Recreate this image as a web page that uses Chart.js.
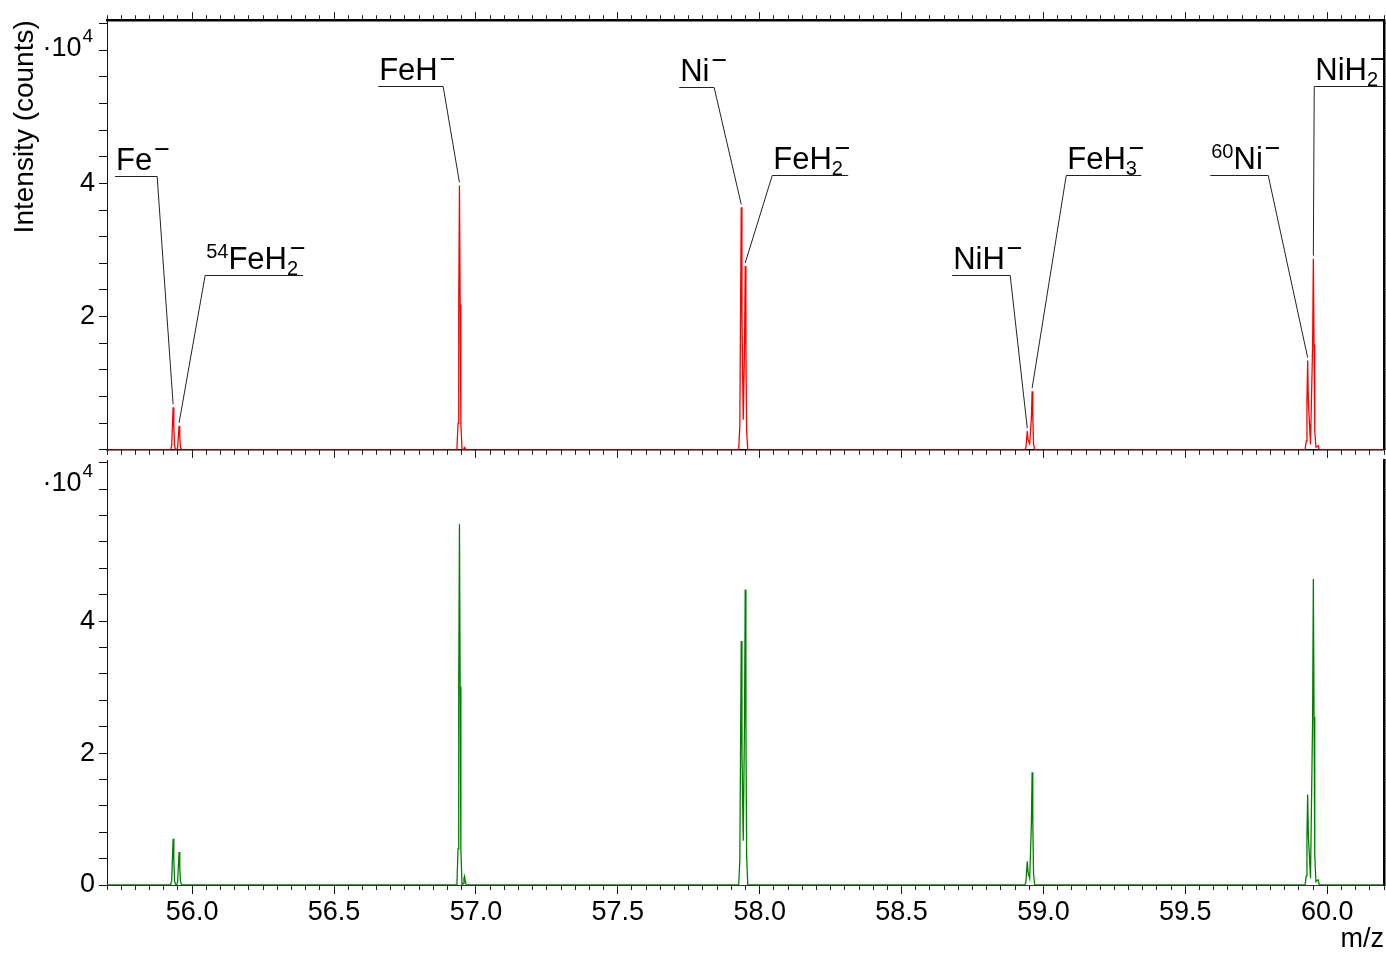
<!DOCTYPE html>
<html>
<head>
<meta charset="utf-8">
<script src="https://cdn.jsdelivr.net/npm/chart.js@4.4.0/dist/chart.umd.min.js"></script>
<style>
  html, body { margin: 0; padding: 0; background: #fff; width: 1386px; height: 954px; overflow: hidden; }
  #wrap { position: relative; width: 1386px; height: 954px; }
  canvas { position: absolute; left: 0; }
  #c1 { top: 0; }
  #c2 { top: 440px; }
</style>
</head>
<body>
<div id="wrap">
  <canvas id="c2" width="1386" height="514"></canvas>
  <canvas id="c1" width="1386" height="470"></canvas>
</div>
<script>
// ---------------- DATA ----------------
// m/z sampling points of the spectra (shared by both spectra)
const mz = [
  55.700,
  55.924, 55.928, 55.9305, 55.933, 55.9355, 55.938, 55.942,
  55.945, 55.949, 55.9515, 55.954, 55.9565, 55.959, 55.963,
  56.933, 56.937, 56.9395, 56.942, 56.9445, 56.947, 56.951,
  56.955, 56.958, 56.960, 56.962, 56.966,
  57.926, 57.930, 57.9325, 57.935, 57.9375, 57.942, 57.9465, 57.949, 57.9515, 57.954, 57.958,
  58.934, 58.938, 58.9405, 58.943, 58.9455, 58.9515, 58.9575, 58.960, 58.9625, 58.965, 58.969,
  59.922, 59.926, 59.9285, 59.931, 59.9335, 59.941, 59.9485, 59.951, 59.9535, 59.956, 59.960, 59.964, 59.968, 59.972,
  60.200
];
// upper (red) spectrum, counts
const topCounts = [
  0,
  0, 640, 3500, 6400, 3500, 640, 0,
  0, 360, 2000, 3600, 2000, 360, 0,
  0, 3970, 21800, 39700, 21800, 3970, 0,
  60, 250, 350, 200, 0,
  0, 3640, 20000, 36400, 20000, 4500, 15200, 27600, 15200, 2760, 0,
  0, 300, 1550, 2800, 1550, 900, 4840, 8800, 4840, 880, 0,
  0, 1340, 7370, 13400, 7370, 800, 15800, 28700, 15800, 2870, 400, 500, 600, 0,
  0
];
// lower (green) spectrum, counts
const bottomCounts = [
  0,
  0, 700, 3900, 7000, 3900, 700, 0,
  0, 500, 2800, 5000, 2800, 500, 0,
  0, 5470, 30100, 54700, 30100, 5470, 0,
  200, 1000, 1300, 700, 0,
  0, 3700, 20300, 37000, 20300, 6700, 24600, 44800, 24600, 4480, 0,
  0, 360, 2000, 3600, 2000, 1000, 9400, 17100, 9400, 1710, 0,
  0, 1370, 7500, 13700, 7500, 1000, 25500, 46400, 25500, 4640, 500, 700, 800, 0,
  0
];
// axis ranges and tick labels
const X_MIN = 55.7, X_MAX = 60.2;
const Y_MAX_TOP = 64500, Y_MAX_BOTTOM = 64400;
const xMajorTicks = [56.0, 56.5, 57.0, 57.5, 58.0, 58.5, 59.0, 59.5, 60.0];
const yTickStep = 4000;
const yLabelsTop = { 20000: '2', 40000: '4' };
const yLabelsBottom = { 0: '0', 20000: '2', 40000: '4' };
const yExponentAt = 60000;
// peak annotations of the upper spectrum (label parts + leader layout in data units)
const annotations = [
  { pre: '',   main: 'Fe',  sub: '',  at: 55.933, elbow: [55.8767, 41100], far: 55.7286 },
  { pre: '54', main: 'FeH', sub: '2', at: 55.954, elbow: [56.0458, 26300], far: 56.3912 },
  { pre: '',   main: 'FeH', sub: '',  at: 56.942, elbow: [56.8846, 54600], far: 56.6555 },
  { pre: '',   main: 'Ni',  sub: '',  at: 57.935, elbow: [57.8396, 54500], far: 57.7163 },
  { pre: '',   main: 'FeH', sub: '2', at: 57.949, elbow: [58.0441, 41200], far: 58.3119 },
  { pre: '',   main: 'NiH', sub: '',  at: 58.943, elbow: [58.8828, 26300], far: 58.6784 },
  { pre: '',   main: 'FeH', sub: '3', at: 58.960, elbow: [59.0802, 41200], far: 59.3445 },
  { pre: '60', main: 'Ni',  sub: '',  at: 59.931, elbow: [59.7921, 41200], far: 59.5877 },
  { pre: '',   main: 'NiH', sub: '2', at: 59.951, elbow: [59.9542, 54600], far: 60.2000 }
];

// ---------------- STYLE / HELPERS ----------------
const FONT = "'Liberation Sans', Arial, Helvetica, sans-serif";
const TICK_FONT = { family: FONT, size: 27 };

function yTicksList(maxV) {
  const out = [];
  for (let v = 0; v <= maxV; v += yTickStep) out.push({ value: v });
  return out;
}
function minorX(position) {
  return {
    type: 'linear', position, min: X_MIN, max: X_MAX, weight: 0,
    afterFit: s => { s.height = 0; },
    ticks: { display: false, stepSize: 0.05, autoSkip: false, includeBounds: false },
    grid: { drawOnChartArea: false, drawTicks: true, tickLength: 5, tickColor: '#222', tickWidth: 1 },
    border: { display: false }
  };
}
function majorX(position, height, opts) {
  return Object.assign({
    type: 'linear', position, min: X_MIN, max: X_MAX, weight: 1,
    afterFit: s => { s.height = height; },
    afterBuildTicks: s => { s.ticks = xMajorTicks.map(v => ({ value: v })); },
    ticks: { display: false, autoSkip: false, maxRotation: 0 },
    grid: { drawOnChartArea: false, drawTicks: true, tickLength: 8, tickColor: '#111', tickWidth: 1 },
    border: { display: true, color: '#000', width: 1.5 }
  }, opts || {});
}
function leftY(maxV, labels, title) {
  return {
    type: 'linear', position: 'left', min: 0, max: maxV,
    afterFit: s => { s.width = 107; },
    afterBuildTicks: s => { s.ticks = yTicksList(maxV); },
    ticks: {
      autoSkip: false, padding: 4, color: '#000', font: TICK_FONT,
      callback: v => (labels[v] !== undefined ? labels[v] : '')
    },
    grid: { drawOnChartArea: false, drawTicks: true, tickLength: 8, tickColor: '#111', tickWidth: 1 },
    border: { display: true, color: '#111', width: 1 },
    title: title || { display: false }
  };
}
function rightY(maxV) {
  return {
    type: 'linear', position: 'right', min: 0, max: maxV,
    afterFit: s => { s.width = 2; },
    afterBuildTicks: s => { s.ticks = yTicksList(maxV); },
    ticks: { display: false },
    grid: { drawOnChartArea: false, drawTicks: true, tickLength: 4, tickColor: '#111', tickWidth: 1 },
    border: { display: true, color: '#000', width: 2.5 }
  };
}

// "·10^4" exponent marker drawn at the 6·10^4 tick of the left axis
function exponentPlugin(shift) {
  return {
    id: 'exponent',
    afterDraw(chart) {
      const ctx = chart.ctx, y = chart.scales.y;
      const py = y.getPixelForValue(yExponentAt) + shift;
      ctx.save();
      ctx.fillStyle = '#000';
      ctx.textBaseline = 'middle';
      ctx.textAlign = 'left';
      ctx.font = `19px ${FONT}`;
      const wSup = ctx.measureText('4').width;
      ctx.font = `27px ${FONT}`;
      const wMain = ctx.measureText('·10').width;
      const right = 92;
      const x0 = right - wSup - wMain;
      ctx.fillText('·10', x0, py);
      ctx.font = `19px ${FONT}`;
      ctx.fillText('4', x0 + wMain + 1, py - 11);
      ctx.restore();
    }
  };
}

// leader-line annotations for the upper panel
const annotationPlugin = {
  id: 'peakLabels',
  afterDatasetsDraw(chart) {
    const { ctx } = chart;
    const x = chart.scales.x, y = chart.scales.y;
    ctx.save();
    annotations.forEach(a => {
      const i = mz.indexOf(a.at);
      const px = x.getPixelForValue(a.at);
      const py = y.getPixelForValue(topCounts[i]);
      const ex = x.getPixelForValue(a.elbow[0]);
      const ey = Math.round(y.getPixelForValue(a.elbow[1])) + 0.5;
      const fx = x.getPixelForValue(a.far);
      ctx.strokeStyle = '#222';
      ctx.lineWidth = 1;
      ctx.beginPath();
      ctx.moveTo(fx, ey);
      ctx.lineTo(ex, ey);
      ctx.lineTo(px, py - 3);
      ctx.stroke();

      let tx = Math.min(fx, ex) + 1;
      const by = ey - 7;
      ctx.fillStyle = '#000';
      ctx.textBaseline = 'alphabetic';
      ctx.textAlign = 'left';
      if (a.pre) {
        ctx.font = `20px ${FONT}`;
        ctx.fillText(a.pre, tx, by - 11);
        tx += ctx.measureText(a.pre).width;
      }
      ctx.font = `31px ${FONT}`;
      ctx.fillText(a.main, tx, by);
      tx += ctx.measureText(a.main).width;
      let sx = tx + 2;
      if (a.sub) {
        ctx.font = `20px ${FONT}`;
        ctx.fillText(a.sub, tx, by + 6);
        sx = tx + 3;
      }
      ctx.font = `27px ${FONT}`;
      ctx.fillText('\u2212', sx, by - 12);
    });
    ctx.restore();
  }
};

function points(values) {
  return mz.map((m, i) => ({ x: m, y: values[i] }));
}

const common = {
  responsive: false,
  animation: false,
  events: [],
  plugins: { legend: { display: false }, tooltip: { enabled: false } },
  elements: { point: { radius: 0 }, line: { tension: 0 } }
};

// ---------------- UPPER PANEL ----------------
new Chart(document.getElementById('c1'), {
  type: 'scatter',
  data: {
    datasets: [{
      data: points(topCounts), showLine: true, borderColor: 'rgb(255,0,0)', borderWidth: 1.3,
      pointRadius: 0, xAxisID: 'x', yAxisID: 'y'
    }]
  },
  options: Object.assign({}, common, {
    layout: { padding: 0 },
    scales: {
      xt: majorX('top', 20, { border: { display: true, color: '#000', width: 2.5 } }),
      xtm: minorX('top'),
      x: majorX('bottom', 18),
      xm: minorX('bottom'),
      y: leftY(Y_MAX_TOP, yLabelsTop, {
        display: true, text: 'Intensity (counts)', align: 'end', color: '#000',
        font: { family: FONT, size: 28 }, padding: { top: 8, bottom: 0 }
      }),
      yr: rightY(Y_MAX_TOP)
    }
  }),
  plugins: [annotationPlugin, exponentPlugin(-2)]
});

// ---------------- LOWER PANEL ----------------
new Chart(document.getElementById('c2'), {
  type: 'scatter',
  data: {
    datasets: [{
      data: points(bottomCounts), showLine: true, borderColor: 'rgb(0,128,0)', borderWidth: 1.3,
      pointRadius: 0, xAxisID: 'x', yAxisID: 'y'
    }]
  },
  options: Object.assign({}, common, {
    layout: { padding: { top: 12, left: 0, right: 0, bottom: 0 } },
    scales: {
      x: majorX('bottom', 69, {
        ticks: {
          display: true, autoSkip: false, maxRotation: 0, padding: 2, color: '#000', font: TICK_FONT,
          callback: v => Number(v).toFixed(1)
        },
        grid: { drawOnChartArea: false, drawTicks: true, tickLength: 9, tickColor: '#111', tickWidth: 1 },
        border: { display: true, color: '#333', width: 1 },
        title: { display: true, text: 'm/z', align: 'end', color: '#000', font: { family: FONT, size: 27 }, padding: { top: 0, bottom: -2 } }
      }),
      xm: minorX('bottom'),
      y: leftY(Y_MAX_BOTTOM, yLabelsBottom),
      yr: rightY(Y_MAX_BOTTOM)
    }
  }),
  plugins: [exponentPlugin(-6)]
});
</script>
</body>
</html>
